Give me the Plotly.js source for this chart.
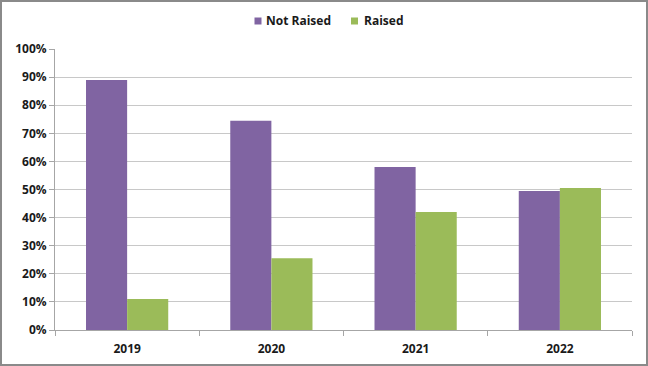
<!DOCTYPE html>
<html><head><meta charset="utf-8">
<script src="https://cdn.plot.ly/plotly-3.0.1.min.js"></script>
<style>
html,body{margin:0;padding:0;background:#fff;}
#wrap{position:relative;width:648px;height:366px;}
#chart{width:648px;height:366px;}
#frame{position:absolute;left:0;top:0;width:648px;height:366px;box-sizing:border-box;border:2px solid #8a8a8a;pointer-events:none;}
</style></head>
<body>
<div id="wrap"><div id="chart"></div><div id="frame"></div></div>
<script>
const years = ["2019","2020","2021","2022"];
const seriesNames = ["Not Raised", "Raised"];
const notRaised = [0.89, 0.745, 0.58, 0.495];
const raised = [0.11, 0.255, 0.42, 0.505];
const yTicks = [0,0.1,0.2,0.3,0.4,0.5,0.6,0.7,0.8,0.9,1.0];
const colors = ["#8064a2", "#9bbb59"];

const ff = "Open Sans, Liberation Sans, sans-serif";
const boldFont = {family:ff, size:12, color:"#1a1a1a", weight:"bold"};
const data = [
  {type:"bar", name:seriesNames[0], x:years, y:notRaised, marker:{color:colors[0]}},
  {type:"bar", name:seriesNames[1], x:years, y:raised, marker:{color:colors[1]}}
];

// plot area: x 55..632 (577px), y 49..330 (281px)
const pxX = px => (px - 55) / 577;
const pxY = py => (330 - py) / 281;
const legendItems = [
  {sq: 258, tx: 264},
  {sq: 354.5, tx: 362}
];
const shapes = legendItems.map((it, i) => ({
  type:"rect", xref:"paper", yref:"paper",
  xsizemode:"pixel", ysizemode:"pixel",
  xanchor:pxX(it.sq), yanchor:pxY(21),
  x0:-3.5, x1:3.5, y0:-3.5, y1:3.5,
  fillcolor:colors[i], line:{width:0}
}));
const annotations = legendItems.map((it, i) => ({
  xref:"paper", yref:"paper", x:pxX(it.tx), y:pxY(20.5),
  xanchor:"left", yanchor:"middle", showarrow:false,
  text:seriesNames[i], font:boldFont
}));

const layout = {
  width:648, height:366,
  margin:{l:55, r:16, t:49, b:36},
  paper_bgcolor:"#fff", plot_bgcolor:"#fff",
  font:{family:ff, size:11, color:"#1a1a1a"},
  barmode:"group", bargap:0.43, bargroupgap:0,
  showlegend:false,
  shapes:shapes, annotations:annotations,
  xaxis:{type:"category", showgrid:false, showline:true, linecolor:"#a6a6a6", linewidth:1,
         ticks:"outside", tickson:"boundaries", ticklen:5, tickcolor:"#a6a6a6",
         ticklabelstandoff:8, tickfont:boldFont},
  yaxis:{range:[0,1], tickvals:yTicks, tickformat:".0%", showgrid:true, gridcolor:"#c8c8c8", gridwidth:1,
         showline:true, linecolor:"#a6a6a6", ticks:"outside", ticklen:5, tickcolor:"#a6a6a6",
         zeroline:false, tickfont:boldFont}
};
Plotly.newPlot("chart", data, layout, {displayModeBar:false, staticPlot:true});
</script>
</body></html>
